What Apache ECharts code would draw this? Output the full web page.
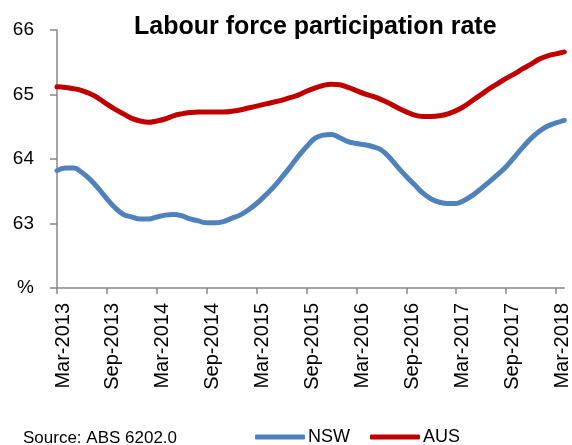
<!DOCTYPE html>
<html>
<head>
<meta charset="utf-8">
<script src="https://cdn.jsdelivr.net/npm/echarts@6/dist/echarts.min.js"></script>
<style>
  html, body { margin: 0; padding: 0; background: #fff; }
  #main { width: 572px; height: 445px; }
</style>
</head>
<body>
<div id="main"></div>
<script>
// monthly, Mar-2013 .. Apr-2018
var monthNames = ['Jan','Feb','Mar','Apr','May','Jun','Jul','Aug','Sep','Oct','Nov','Dec'];
var months = [];
for (var i = 0; i < 62; i++) {
  var m = (2 + i) % 12, y = 2013 + Math.floor((2 + i) / 12);
  months.push(monthNames[m] + '-' + y);
}

var nsw = [
  63.82, 63.86, 63.86, 63.79, 63.68, 63.54, 63.38, 63.24, 63.14, 63.10, 63.07, 63.07,
  63.10, 63.13, 63.14, 63.12, 63.07, 63.04, 63.01, 63.01, 63.03, 63.08, 63.13, 63.21,
  63.31, 63.43, 63.56, 63.71, 63.87, 64.04, 64.19, 64.32, 64.37, 64.38, 64.33, 64.27,
  64.24, 64.22, 64.19, 64.14, 64.02, 63.87, 63.73, 63.60, 63.47, 63.38, 63.33, 63.31,
  63.31, 63.36, 63.44, 63.54, 63.65, 63.76, 63.88, 64.03, 64.18, 64.32, 64.43, 64.51,
  64.56, 64.60
];
var aus = [
  65.12, 65.11, 65.09, 65.06, 65.01, 64.94, 64.85, 64.77, 64.70, 64.63, 64.59, 64.57,
  64.59, 64.62, 64.67, 64.70, 64.72, 64.73, 64.73, 64.73, 64.73, 64.74, 64.76, 64.79,
  64.82, 64.85, 64.88, 64.91, 64.95, 64.99, 65.05, 65.10, 65.14, 65.16, 65.15, 65.11,
  65.06, 65.01, 64.97, 64.92, 64.86, 64.79, 64.73, 64.68, 64.66, 64.66, 64.67, 64.70,
  64.75, 64.82, 64.91, 65.00, 65.09, 65.17, 65.25, 65.32, 65.40, 65.47, 65.55, 65.60,
  65.63, 65.66
];

var font = 'Liberation Sans';
var myChart = echarts.init(document.getElementById('main'));
var option = {
  animation: false,
  title: {
    text: 'Labour force participation rate',
    left: 134,
    top: 15,
    padding: 0,
    textStyle: { fontFamily: font, fontSize: 25, fontWeight: 'bold', color: '#000' }
  },
  legend: {
    left: 250,
    top: 423,
    itemWidth: 50,
    itemHeight: 5,
    itemGap: 20,
    icon: 'roundRect',
    textStyle: { fontFamily: font, fontSize: 18, color: '#000', padding: [0, 0, 0, -2] },
    data: ['NSW', 'AUS']
  },
  graphic: [{
    type: 'text',
    left: 23,
    top: 430,
    style: { text: 'Source: ABS 6202.0', font: '17px "Liberation Sans"', fill: '#000' }
  }],
  grid: { left: 57, right: 5, top: 30, bottom: 157 },
  xAxis: {
    type: 'category',
    data: months,
    boundaryGap: false,
    axisLine: { lineStyle: { color: '#888', width: 1.5 } },
    axisTick: { interval: 5, length: 6, lineStyle: { color: '#888', width: 1.5 } },
    axisLabel: {
      interval: 5,
      rotate: 90,
      margin: 15,
      verticalAlign: 'top',
      lineHeight: 12,
      fontFamily: font,
      fontSize: 20,
      color: '#000'
    }
  },
  yAxis: {
    type: 'value',
    min: 62,
    max: 66,
    interval: 1,
    splitLine: { show: false },
    axisLine: { show: true, lineStyle: { color: '#888', width: 1.5 } },
    axisTick: { show: true, length: 7, lineStyle: { color: '#888', width: 1.5 } },
    axisLabel: {
      margin: 23,
      fontFamily: font,
      fontSize: 19,
      color: '#000',
      formatter: function (v) { return v === 62 ? '%' : v; }
    }
  },
  series: [
    {
      name: 'NSW',
      type: 'line',
      data: nsw,
      smooth: 0.4,
      showSymbol: false,
      color: '#4F81BD',
      lineStyle: { width: 5, cap: 'round' }
    },
    {
      name: 'AUS',
      type: 'line',
      data: aus,
      smooth: 0.4,
      showSymbol: false,
      color: '#C00000',
      lineStyle: { width: 5, cap: 'round' }
    }
  ]
};
myChart.setOption(option);
</script>
</body>
</html>
